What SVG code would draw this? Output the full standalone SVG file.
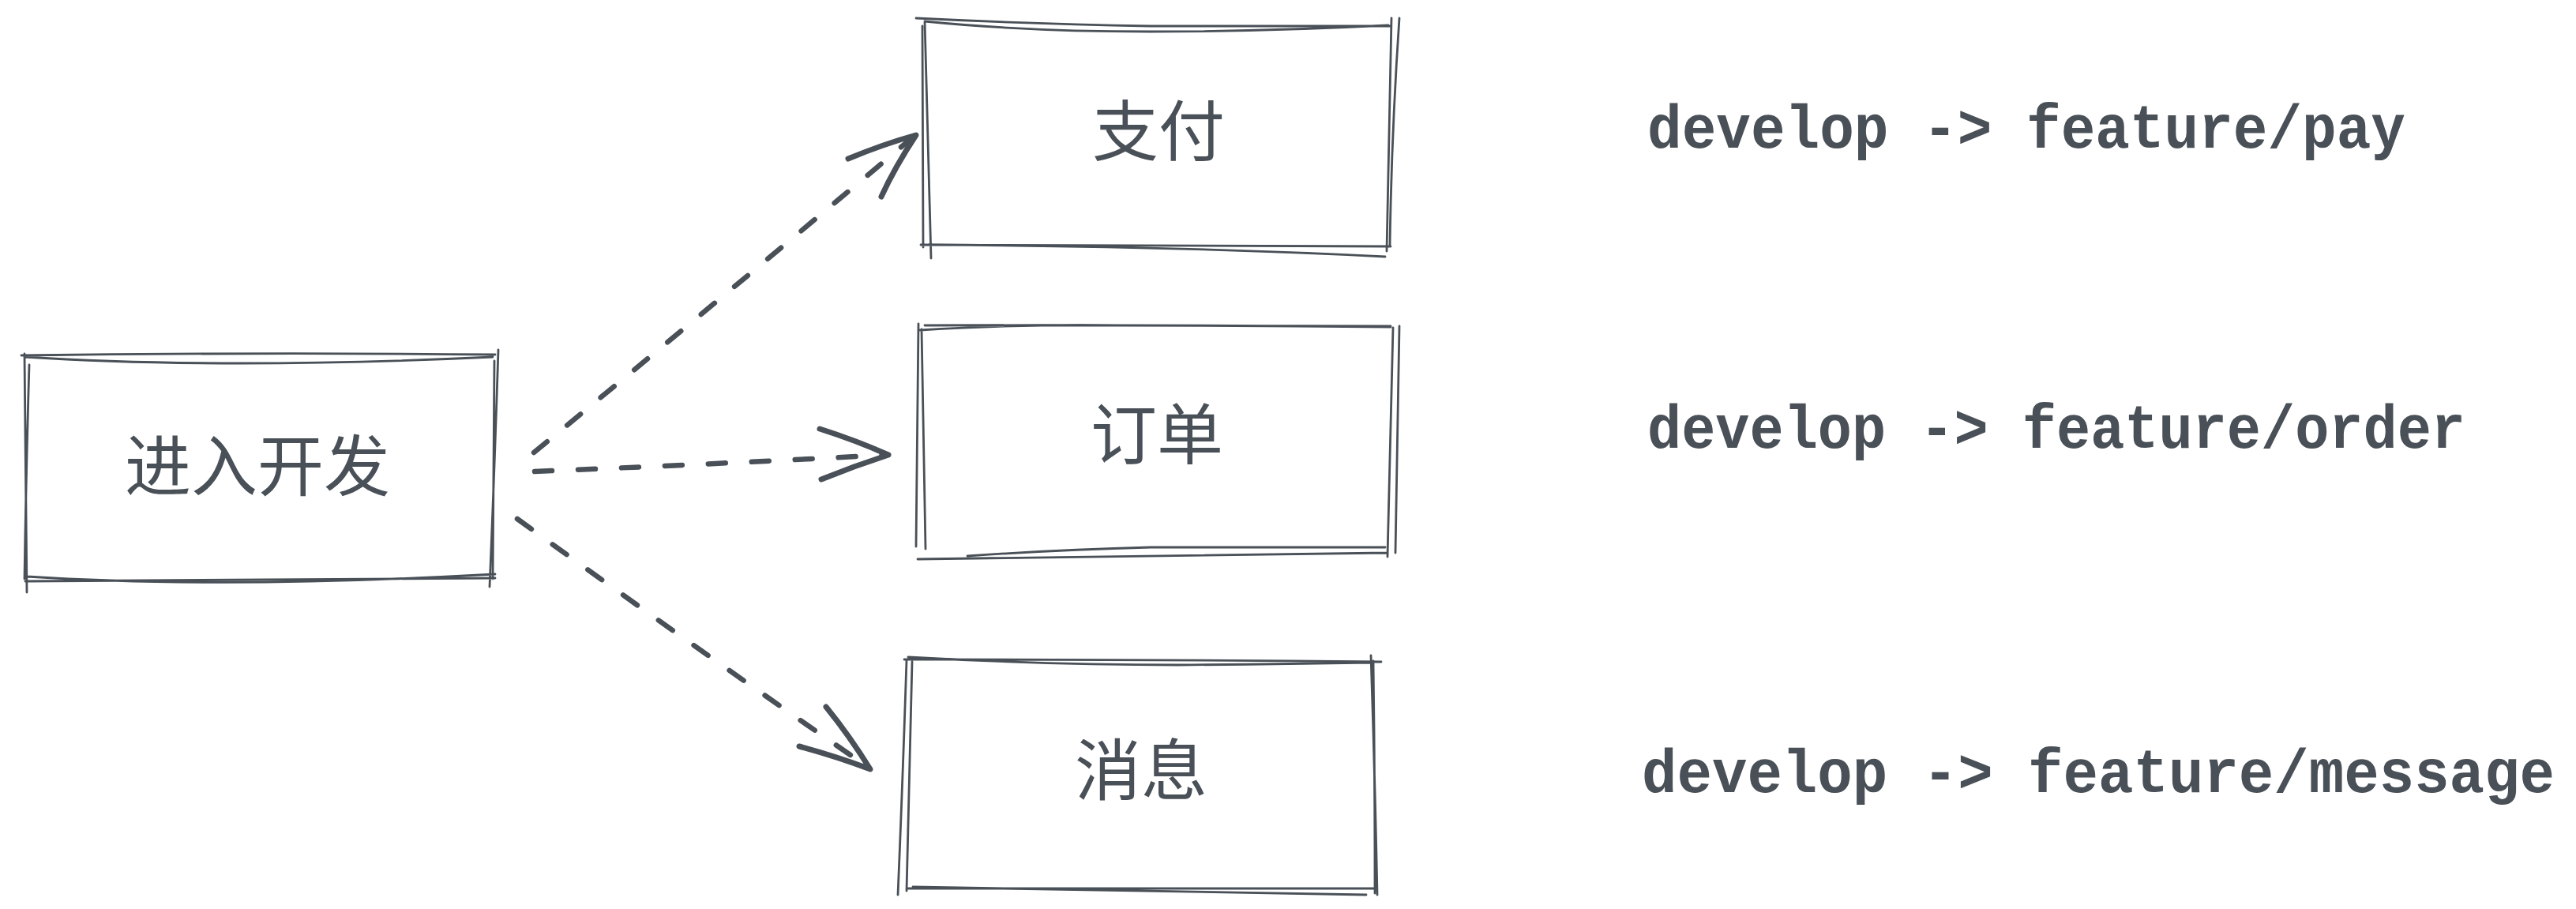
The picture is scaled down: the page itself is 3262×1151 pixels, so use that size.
<svg xmlns="http://www.w3.org/2000/svg" width="3262" height="1151" viewBox="0 0 3262 1151">
<defs>
<style>
.box{fill:none;stroke:#495057;stroke-width:2.8;stroke-linecap:round;stroke-linejoin:round}
.cjk{font-family:"Noto Sans CJK SC","Noto Sans",sans-serif;font-size:84px;fill:#495057;text-anchor:middle}
.note{font-family:"Liberation Mono","DejaVu Sans Mono",monospace;font-size:78px;font-weight:bold;fill:#495057}
.dash{fill:none;stroke:#495057;stroke-width:6.5;stroke-linecap:round;stroke-dasharray:22 33}
.head{fill:none;stroke:#495057;stroke-width:7;stroke-linecap:round;stroke-linejoin:round}
</style>
</defs>
<rect width="3262" height="1151" fill="#ffffff"/>

<g id="node-start">
<path class="box" d="M27 450 Q330 446 627 449 M31 452 Q283 468 624 452 M31 448 Q33 600 34 750 M37 462 Q33 600 31 733 M631 443 Q626 600 620 743 M626 457 Q625 600 624 733 M34 730 Q283 746 627 727 M32 736 Q330 734 627 732"/>
<text class="cjk" x="326" y="621">进入开发</text>
</g>

<g id="node-pay">
<path class="box" d="M1160 23 Q1300 30 1457 33 L1761 33 M1171 27 Q1300 40 1457 40 Q1600 40 1758 32 M1168 33 Q1169 170 1169 313 M1171 27 Q1175 180 1179 327 M1762 23 Q1759 170 1756 318 M1772 23 Q1762 170 1760 312 M1166 310 Q1460 310 1761 312 M1176 310 Q1500 312 1754 325"/>
<text class="cjk" x="1467" y="197">支付</text>
</g>

<g id="node-order">
<path class="box" d="M1171 412 Q1460 411 1761 414 M1165 418 Q1300 410 1412 412 Q1600 413 1761 413 M1163 410 Q1162 550 1160 692 M1167 417 Q1170 560 1172 695 M1772 413 Q1770 560 1767 700 M1764 415 Q1760 560 1757 705 M1162 708 Q1460 703 1756 700 M1225 704 Q1340 696 1457 693 Q1600 693 1754 693"/>
<text class="cjk" x="1465" y="581">订单</text>
</g>

<g id="node-message">
<path class="box" d="M1145 835 Q1450 835 1749 838 M1150 832 Q1330 842 1492 842 Q1620 841 1736 839 M1148 836 Q1143 990 1137 1133 M1155 838 Q1151 980 1148 1128 M1736 830 Q1741 980 1744 1133 M1739 837 Q1741 980 1741 1131 M1150 1125 Q1450 1124 1741 1125 M1156 1123 Q1450 1127 1730 1133"/>
<text class="cjk" x="1445" y="1006">消息</text>
</g>

<g id="connectors">
<path class="dash" d="M676 573 Q905 385 1158 172"/>
<path class="head" d="M1074 201 Q1120 182 1160 171 Q1133 212 1116 249"/>
<path class="dash" d="M677 597 Q900 588 1122 576"/>
<path class="head" d="M1038 543 Q1085 558 1125 576 Q1082 590 1040 607"/>
<path class="dash" d="M655 657 Q880 820 1100 972"/>
<path class="head" d="M1012 945 Q1060 958 1102 974 Q1076 932 1046 895"/>
</g>

<g id="notes">
<text class="note" x="2086" y="187" textLength="960" lengthAdjust="spacingAndGlyphs">develop -&gt; feature/pay</text>
<text class="note" x="2086" y="567" textLength="1036" lengthAdjust="spacingAndGlyphs">develop -&gt; feature/order</text>
<text class="note" x="2079" y="1003" textLength="1156" lengthAdjust="spacingAndGlyphs">develop -&gt; feature/message</text>
</g>
</svg>
